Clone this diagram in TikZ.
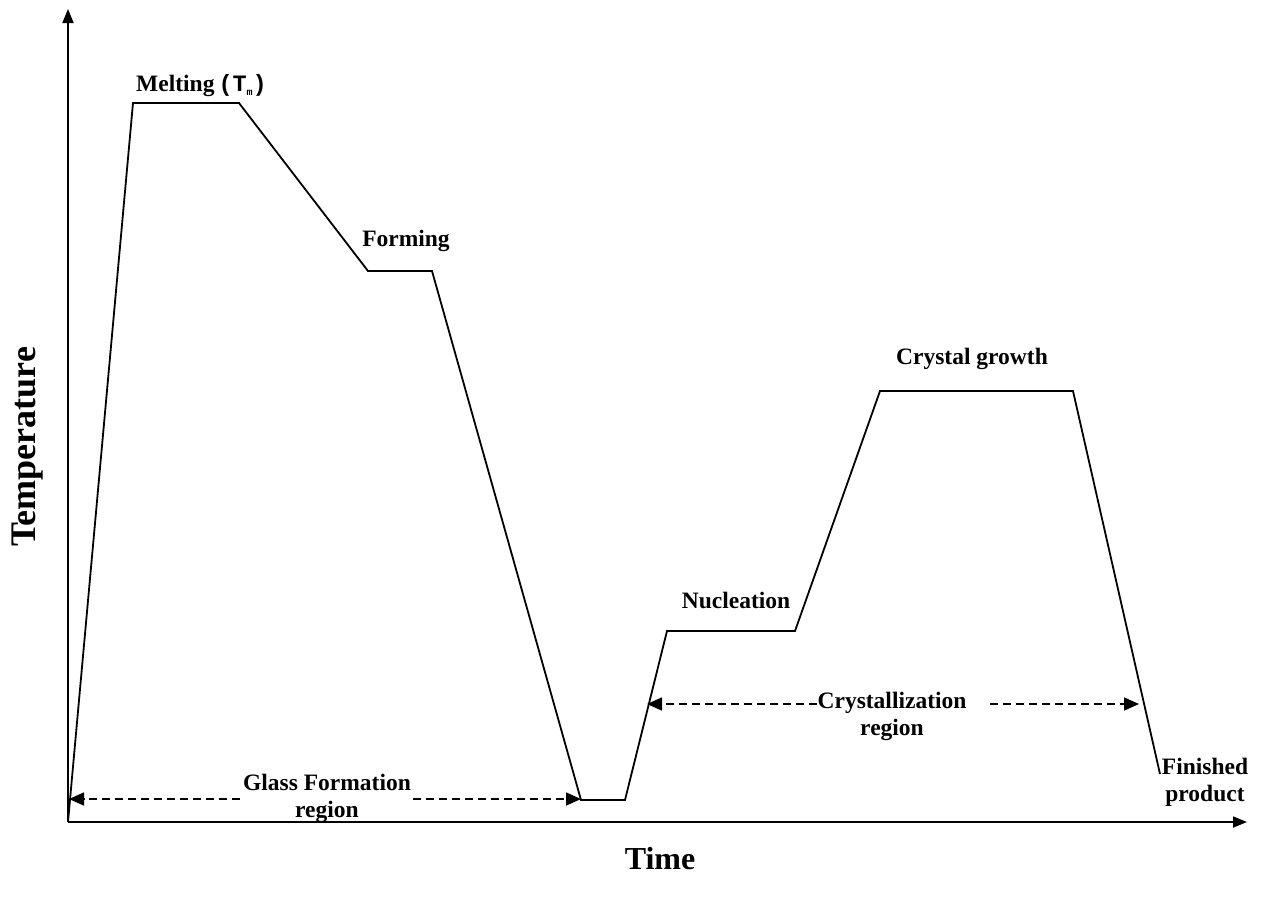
\documentclass[tikz,border=0pt]{standalone}
\usepackage{fontspec}
\setmainfont{Liberation Serif}
\newfontfamily\codefont{Liberation Mono}
\usetikzlibrary{arrows.meta}
\begin{document}
\begin{tikzpicture}[x=1pt,y=-1pt,
  axis/.style={line width=1.8pt,-{Triangle[length=14pt,width=11pt]}},
  curve/.style={line width=1.8pt,line join=miter},
  dashline/.style={line width=1.6pt,dash pattern=on 8pt off 5pt},
  tip/.style={-{Triangle[length=15pt,width=13pt]}},
  lbl/.style={font=\fontsize{23.5}{27}\selectfont\bfseries,align=center,inner sep=0pt},
  axlbl/.style={font=\bfseries,inner sep=0pt}]
\useasboundingbox (0,0) rectangle (1263,900);

% axes
\coordinate (O) at (68,822);
\coordinate (ytop) at (68,9);
\coordinate (xend) at (1247,822);
\draw[axis] (O) -- (ytop);
\draw[axis] (O) -- (xend);

% temperature-time schedule
\coordinate (p1) at (133,103);
\coordinate (p2) at (239,103);
\coordinate (p3) at (368,271);
\coordinate (p4) at (432,271);
\coordinate (p5) at (581,800);
\coordinate (p6) at (625,800);
\coordinate (p7) at (667,631);
\coordinate (p8) at (795,631);
\coordinate (p9) at (880,391);
\coordinate (p10) at (1073,391);
\coordinate (p11) at (1160,774);
\draw[curve] (O) -- (p1) -- (p2) -- (p3) -- (p4) -- (p5) -- (p6) -- (p7) -- (p8) -- (p9) -- (p10) -- (p11);

% glass formation span
\coordinate (g1) at (69,799);
\coordinate (g2) at (581,799);
\coordinate (gL) at (240,799);
\coordinate (gR) at (413,799);
\draw[dashline,tip] (gL) -- (g1);
\draw[dashline,tip] (gR) -- (g2);
\node[lbl,anchor=north] (glass) at (327,774) {Glass Formation\\region};

% crystallization span
\coordinate (c1) at (647,704);
\coordinate (c2) at (1139,704);
\coordinate (cL) at (817,704);
\coordinate (cR) at (990,704);
\draw[dashline,tip] (cL) -- (c1);
\draw[dashline,tip] (cR) -- (c2);
\node[lbl,anchor=north] (cryst) at (892,692) {Crystallization\\region};

% stage labels
\node[lbl,anchor=base west] (melt) at (136,91) {Melting\hspace{4pt}{\codefont(T\raisebox{-0.4ex}{\fontsize{10}{10}\selectfont m})}};
\node[lbl,anchor=base] (form) at (406,246) {Forming};
\node[lbl,anchor=base] (nucl) at (736,608) {Nucleation};
\node[lbl,anchor=base] (grow) at (972,364) {Crystal growth};
\node[lbl,anchor=north] (fin) at (1205,758) {Finished\\product};

% axis titles
\node[axlbl,font=\fontsize{32}{36}\selectfont\bfseries,anchor=base] (tlab) at (660,869) {Time};
\node[axlbl,font=\fontsize{36}{40}\selectfont\bfseries,rotate=90,anchor=base] (Tlab) at (35,447) {Temperature};
\end{tikzpicture}
\end{document}
